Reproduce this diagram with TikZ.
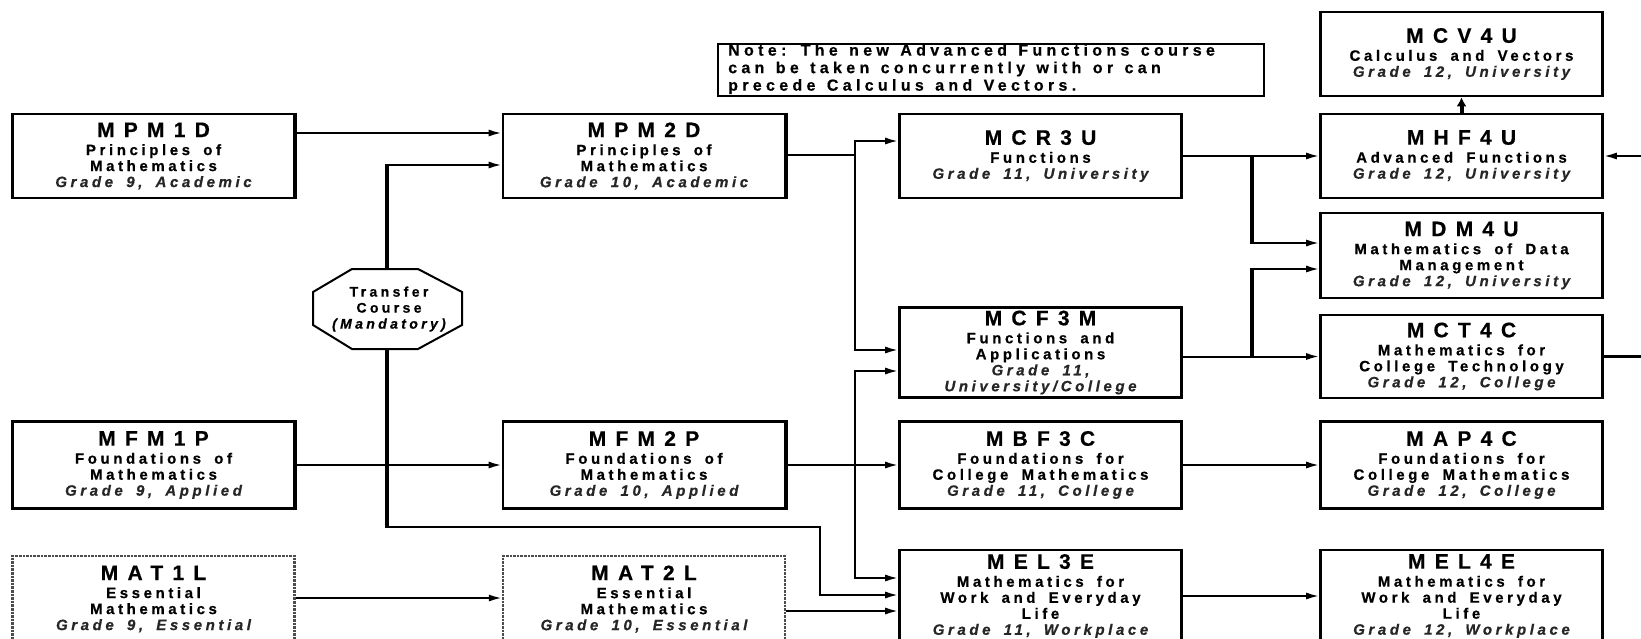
\documentclass[tikz,border=0pt]{standalone}
\usepackage{fontspec}
\setmainfont{Liberation Sans}
\newfontfamily\ctfont[LetterSpace=44,FakeBold=0.6]{Liberation Sans}
\newfontfamily\csfont[LetterSpace=24,WordSpace=1.7,FakeBold=0.6]{Liberation Sans}
\newfontfamily\cnfont[LetterSpace=27,WordSpace=1.3,FakeBold=0.5]{Liberation Sans}
\usetikzlibrary{arrows.meta}
\newcommand\ctitle[1]{{\ctfont\bfseries\fontsize{21}{19}\selectfont #1}\\[2pt]}
\newcommand\cgrade[1]{{\itshape\color{black!85}#1}}
\tikzset{
  course/.style={draw, line width=2.6pt, fill=white, minimum width=282pt, align=center, inner sep=0pt,
    font=\csfont\bfseries\fontsize{15}{16}\selectfont},
  ess/.style={course, draw=black!70, densely dotted, line width=2.2pt},
  conn/.style={line width=2pt, -{Latex[length=13pt,width=7pt]}},
  plainline/.style={line width=2pt},
  bus/.style={line width=4pt},
}
\begin{document}
\begin{tikzpicture}[x=1pt,y=-1pt]
\useasboundingbox (0,0) rectangle (1641,638);
\clip (0,0) rectangle (1641,638);
% note
\node[draw, line width=2.6pt, minimum width=546pt, minimum height=52pt, inner sep=0pt] (note) at (991,70) {};
\node[anchor=west, align=left, inner sep=0pt, font=\cnfont\bfseries\fontsize{16}{17.5}\selectfont] (notetext) at (728,69)
  {Note: The new Advanced Functions course\\can be taken concurrently with or can\\precede Calculus and Vectors.};
% column 1
\node[course, minimum height=84pt] (mpm1d) at (153.5,156) {\ctitle{MPM1D}Principles of\\Mathematics\\\cgrade{Grade 9, Academic}};
\node[course, minimum height=87pt] (mfm1p) at (153.5,465) {\ctitle{MFM1P}Foundations of\\Mathematics\\\cgrade{Grade 9, Applied}};
\node[ess, minimum height=86pt] (mat1l) at (153.5,599) {\ctitle{MAT1L}Essential\\Mathematics\\\cgrade{Grade 9, Essential}};
% column 2
\node[course, minimum height=84pt] (mpm2d) at (644,156) {\ctitle{MPM2D}Principles of\\Mathematics\\\cgrade{Grade 10, Academic}};
\node[course, minimum height=87pt] (mfm2p) at (644,465) {\ctitle{MFM2P}Foundations of\\Mathematics\\\cgrade{Grade 10, Applied}};
\node[ess, minimum height=86pt] (mat2l) at (644,599) {\ctitle{MAT2L}Essential\\Mathematics\\\cgrade{Grade 10, Essential}};
% column 3
\node[course, minimum height=84pt] (mcr3u) at (1040.5,156) {\ctitle{MCR3U}Functions\\\cgrade{Grade 11, University}};
\node[course, minimum height=90pt] (mcf3m) at (1040.5,352.5) {\ctitle{MCF3M}Functions and\\Applications\\\cgrade{Grade 11,}\\\cgrade{University/College}};
\node[course, minimum height=87pt] (mbf3c) at (1040.5,465) {\ctitle{MBF3C}Foundations for\\College Mathematics\\\cgrade{Grade 11, College}};
\node[course, minimum height=92pt] (mel3e) at (1040.5,596) {\ctitle{MEL3E}Mathematics for\\Work and Everyday\\Life\\\cgrade{Grade 11, Workplace}};
% column 4
\node[course, minimum height=84pt] (mcv4u) at (1461.5,54) {\ctitle{MCV4U}Calculus and Vectors\\\cgrade{Grade 12, University}};
\node[course, minimum height=84pt] (mhf4u) at (1461.5,156) {\ctitle{MHF4U}Advanced Functions\\\cgrade{Grade 12, University}};
\node[course, minimum height=85pt] (mdm4u) at (1461.5,255.5) {\ctitle{MDM4U}Mathematics of Data\\Management\\\cgrade{Grade 12, University}};
\node[course, minimum height=83pt] (mct4c) at (1461.5,356.5) {\ctitle{MCT4C}Mathematics for\\College Technology\\\cgrade{Grade 12, College}};
\node[course, minimum height=87pt] (map4c) at (1461.5,465) {\ctitle{MAP4C}Foundations for\\College Mathematics\\\cgrade{Grade 12, College}};
\node[course, minimum height=92pt] (mel4e) at (1461.5,596) {\ctitle{MEL4E}Mathematics for\\Work and Everyday\\Life\\\cgrade{Grade 12, Workplace}};
% heavier right edges
\foreach \n in {mpm1d,mpm2d,mfm1p,mfm2p}
  \draw[line width=2.5pt] ([xshift=0.2pt]\n.north east) -- ([xshift=0.2pt]\n.south east);
% helper coordinates
\coordinate (y133) at (0,133);
\coordinate (y155) at (0,155);
\coordinate (y598) at (0,598);
\coordinate (y611) at (0,611);
\coordinate (tctop) at (387,165);
\coordinate (tcbot) at (387,527);
\coordinate (tcturn) at (820,527);
\coordinate (tcdown) at (820,595);
\coordinate (b0) at (855,155);
\coordinate (b1) at (855,141);
\coordinate (b2) at (855,350);
\coordinate (b3) at (855,371);
\coordinate (b4) at (855,578);
\coordinate (c1) at (1252,156);
\coordinate (c2) at (1252,243);
\coordinate (c3) at (1252,269);
\coordinate (c4) at (1252,356.5);
\coordinate (inr) at (1645,156);
\coordinate (outr) at (1645,356.5);
% transfer bus
\draw[bus] (tctop) -- (tcbot);
\draw[conn] ([xshift=-2pt]tctop) -- (tctop -| mpm2d.west);
\draw[conn] ([xshift=-2pt]tcbot) -- (tcturn) -- (tcdown) -- (tcdown -| mel3e.west);
\draw[line width=2pt, fill=white] (313,292) -- (352,269) -- (418,269) -- (462,292) -- (462,325) -- (418,349) -- (352,349) -- (313,325) -- cycle;
\node[align=center, inner sep=0pt, font=\csfont\bfseries\fontsize{14}{16}\selectfont] (transfer) at (389,309)
  {Transfer\\Course\\{\itshape(Mandatory)}};
% grade 9 to 10
\draw[conn] (mpm1d.east |- y133) -- (mpm2d.west |- y133);
\draw[conn] (mfm1p) -- (mfm2p);
\draw[conn] (mat1l.east |- y598) -- (mat2l.west |- y598);
% grade 10 to 11
\draw[plainline] (mpm2d.east |- y155) -- (b0);
\draw[conn] (b2) -- (b1) -- (b1 -| mcr3u.west);
\draw[conn] (b1) -- (b2) -- (b2 -| mcf3m.west);
\draw[conn] (mfm2p) -- (mbf3c);
\draw[conn] (b4) -- (b3) -- (b3 -| mcf3m.west);
\draw[conn] (b3) -- (b4) -- (b4 -| mel3e.west);
\draw[conn] (mat2l.east |- y611) -- (mel3e.west |- y611);
% grade 11 to 12
\draw[conn] (mcr3u) -- (mhf4u);
\draw[bus] (c1) -- (c2);
\draw[conn] ([xshift=-2pt]c2) -- (c2 -| mdm4u.west);
\draw[conn] (mcf3m.east |- mct4c) -- (mct4c.west);
\draw[bus] (c4) -- (c3);
\draw[conn] ([xshift=-2pt]c3) -- (c3 -| mdm4u.west);
\draw[conn] (mbf3c) -- (map4c);
\draw[conn] (mel3e) -- (mel4e);
\draw[line width=4pt, -{Latex[length=9pt,width=10pt]}] (mhf4u.north) -- (mcv4u.south);
\draw[conn] (inr) -- (mhf4u.east);
\draw[line width=3pt] (mct4c.east) -- (outr);
\end{tikzpicture}
\end{document}
